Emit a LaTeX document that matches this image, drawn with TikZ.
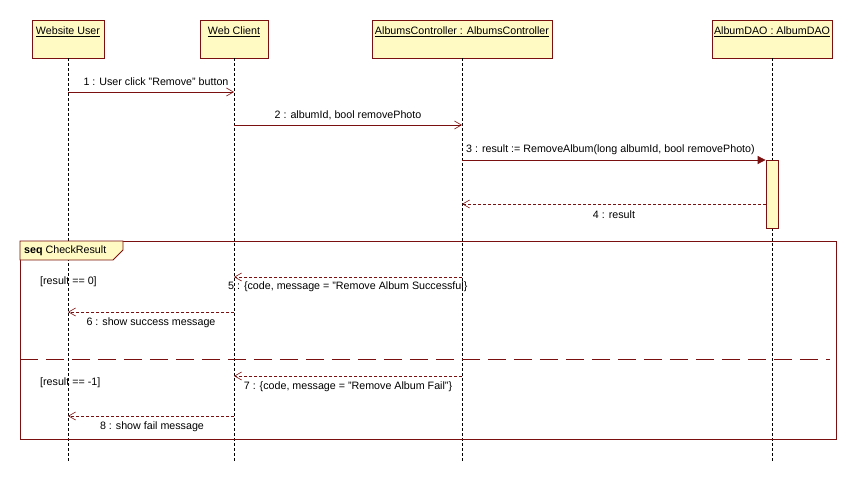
\documentclass[tikz,border=0pt]{standalone}
\usepackage{fontspec}
\setmainfont{Liberation Sans}
\usetikzlibrary{arrows.meta,calc}
\definecolor{umlline}{HTML}{7A1010}
\definecolor{umlfill}{HTML}{FFFAC4}
\begin{document}
\begin{tikzpicture}[x=1pt,y=-1pt,
  every node/.style={font=\fontsize{10.7}{12}\selectfont, inner sep=0pt},
  head/.style={draw=umlline, fill=umlfill, line width=0.8pt, minimum height=38pt},
  lifeline/.style={draw=black, line width=0.8pt, dash pattern=on 3pt off 2pt},
  callmsg/.style={draw=umlline, line width=0.8pt, -{Straight Barb[length=7pt,width=8pt,line width=0.6pt]}},
  syncmsg/.style={draw=umlline, line width=0.8pt, -{Triangle[length=8pt,width=8pt]}},
  replymsg/.style={draw=umlline, line width=0.8pt, dash pattern=on 3pt off 2pt,
    -{Straight Barb[length=7pt,width=8pt,line width=0.6pt]}},
  framebox/.style={draw=umlline, line width=0.8pt},
  activation/.style={draw=umlline, fill=umlfill, line width=0.8pt}]
\useasboundingbox (0,0) rectangle (856,484);
\fill[white] (0,0) rectangle (856,484);

% lifeline heads
\node[head, minimum width=72pt] (user) at (68,39) {};
\node[head, minimum width=68pt] (client) at (234,39) {};
\node[head, minimum width=180pt] (ctrl) at (462,39) {};
\node[head, minimum width=120pt] (dao) at (772,39) {};
\node (userT) at ($(user.north)+(0,12)$) {\underline{Website User}};
\node (clientT) at ($(client.north)+(0,12)$) {\underline{Web Client}};
\node (ctrlT) at ($(ctrl.north)+(0,12)$) {\underline{AlbumsController : AlbumsController}};
\node (daoT) at ($(dao.north)+(0,12)$) {\underline{AlbumDAO : AlbumDAO}};

% lifelines
\coordinate (userE) at (user.south |- 0,462);
\coordinate (clientE) at (client.south |- 0,462);
\coordinate (ctrlE) at (ctrl.south |- 0,462);
\coordinate (daoE) at (dao.south |- 0,462);
\draw[lifeline] (user.south) -- (userE);
\draw[lifeline] (client.south) -- (clientE);
\draw[lifeline] (ctrl.south) -- (ctrlE);
\draw[lifeline] (dao.south) -- (daoE);

% activation on the DAO
\node[activation, minimum width=12pt, minimum height=68pt, anchor=north] (act) at (dao.south |- 0,160) {};

% combined fragment
\draw[framebox] (20,241) rectangle (836,439);
\draw[framebox, fill=umlfill] (20,241) -- (123,241) -- (123,250) -- (113,260) -- (20,260) -- cycle;
\node[anchor=west] (fragT) at (24,251) {\textbf{seq} CheckResult};
\draw[umlline, line width=0.8pt, dash pattern=on 18pt off 8pt] (20,359) -- (830,359);
\node[anchor=west] (g1) at (40,282) {[result == 0]};
\node[anchor=west] (g2) at (40,383) {[result == -1]};

% message end points
\coordinate (m1a) at (user.south |- 0,92);  \coordinate (m1b) at (client.south |- 0,92);
\coordinate (m2a) at (client.south |- 0,125); \coordinate (m2b) at (ctrl.south |- 0,125);
\coordinate (m3a) at (ctrl.south |- 0,160); \coordinate (m3b) at (act.north west);
\coordinate (m4a) at (act.west |- 0,204); \coordinate (m4b) at (ctrl.south |- 0,204);
\coordinate (m5a) at (ctrl.south |- 0,277); \coordinate (m5b) at (client.south |- 0,277);
\coordinate (m6a) at (client.south |- 0,312); \coordinate (m6b) at (user.south |- 0,312);
\coordinate (m7a) at (ctrl.south |- 0,376); \coordinate (m7b) at (client.south |- 0,376);
\coordinate (m8a) at (client.south |- 0,416); \coordinate (m8b) at (user.south |- 0,416);

% messages
\draw[callmsg] (m1a) -- (m1b);
\node (l1) at (156,82) {1 : User click "Remove" button};
\draw[callmsg] (m2a) -- (m2b);
\node (l2) at (348,115) {2 : albumId, bool removePhoto};
\draw[syncmsg] (m3a) -- (m3b);
\node[anchor=west] (l3) at (466,150) {3 : result := RemoveAlbum(long albumId, bool removePhoto)};
\draw[replymsg] (m4a) -- (m4b);
\node (l4) at (614,215) {4 : result};
\draw[replymsg] (m5a) -- (m5b);
\node[anchor=west] (l5) at (228,287) {5 : \{code, message = "Remove Album Successful\}};
\draw[replymsg] (m6a) -- (m6b);
\node (l6) at (151,323) {6 : show success message};
\draw[replymsg] (m7a) -- (m7b);
\node (l7) at (348,387) {7 : \{code, message = "Remove Album Fail"\}};
\draw[replymsg] (m8a) -- (m8b);
\node (l8) at (152,427) {8 : show fail message};
\end{tikzpicture}
\end{document}
